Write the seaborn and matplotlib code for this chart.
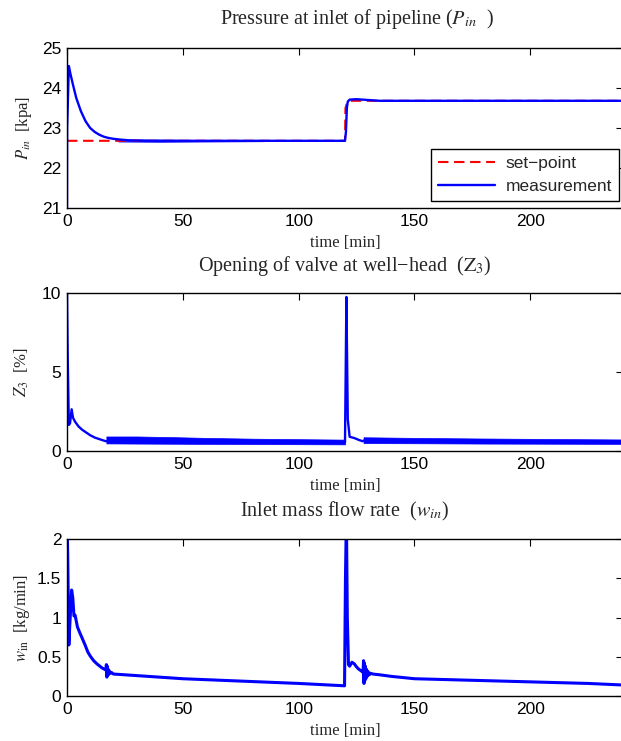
import numpy as np
import pandas as pd
import matplotlib
matplotlib.use("Agg")
import matplotlib.pyplot as plt
import seaborn as sns

# ---------------- data ----------------
# Pressure at inlet: set-point
sp_t = [0, 120, 120.2, 121, 122, 240]
sp_v = [22.68, 22.68, 23.5, 23.65, 23.68, 23.68]
# Pressure at inlet: measurement
p_t = [0, 0.05, 0.8, 1.5, 2.5, 4, 6, 8, 10, 12, 14, 16, 18, 20, 23, 27, 35,
       60, 90, 120, 120.4, 120.8, 121.2, 122, 125, 130, 135, 160, 200, 240]
p_v = [21.0, 23.0, 24.55, 24.35, 24.1, 23.75, 23.42, 23.17, 23.0, 22.9,
       22.83, 22.78, 22.75, 22.73, 22.71, 22.69, 22.68, 22.68, 22.68, 22.68,
       22.9, 23.5, 23.66, 23.71, 23.72, 23.7, 23.68, 23.68, 23.68, 23.68]
# small noise band on pressure
pb_t = [22, 40, 60, 85]
pb_lo = [22.65, 22.64, 22.65, 22.66]
pb_hi = [22.73, 22.72, 22.71, 22.70]

# Valve opening Z3
z_t = [0, 0.3, 0.8, 1.3, 2.0, 2.6, 3.5, 5, 6.5, 8, 10, 12, 14, 16.5, 17.2,
       120, 120.3, 120.6, 121.2, 122, 124, 126, 127.5, 128.2, 240]
z_v = [10, 6, 1.65, 1.75, 2.64, 2.1, 1.85, 1.55, 1.35, 1.2, 1.0, 0.85, 0.75,
       0.63, 0.62, 0.55, 5.0, 9.75, 2.0, 0.9, 0.82, 0.7, 0.62, 0.66, 0.6]
# oscillation envelopes of Z3
zb1_t = [17, 30, 45, 60, 80, 100, 120]
zb1_lo = [0.48, 0.47, 0.46, 0.45, 0.44, 0.43, 0.42]
zb1_hi = [0.92, 0.92, 0.88, 0.83, 0.78, 0.75, 0.72]
zb2_t = [128, 150, 180, 210, 240]
zb2_lo = [0.50, 0.49, 0.47, 0.46, 0.45]
zb2_hi = [0.87, 0.83, 0.79, 0.76, 0.73]

# Inlet mass flow rate
w_t = [0, 0.3, 0.8, 1.2, 2.0, 2.5, 3.0, 3.5, 4.5, 5.6, 6.5, 7.8, 9, 10, 11.5,
       12.9, 15, 16.8, 17.0, 17.2, 17.4, 17.6, 17.8, 18.0, 18.3, 18.7, 19.2,
       20, 30, 50, 75, 100, 119.8, 120.2, 120.6, 121.0, 121.5, 122, 123, 124,
       125, 126, 127, 127.8, 128.0, 128.2, 128.4, 128.6, 128.8, 129, 129.3,
       129.6, 130, 130.5, 131, 132, 135, 140, 150, 175, 200, 225, 240]
w_v = [2.3, 1.8, 0.65, 0.9, 1.35, 1.25, 1.02, 1.03, 0.88, 0.8, 0.74, 0.65,
       0.56, 0.51, 0.45, 0.41, 0.36, 0.33, 0.40, 0.24, 0.38, 0.26, 0.34, 0.28,
       0.32, 0.29, 0.30, 0.28, 0.26, 0.22, 0.19, 0.16, 0.13, 1.5, 2.3, 1.0,
       0.40, 0.38, 0.43, 0.41, 0.37, 0.34, 0.32, 0.30, 0.45, 0.16, 0.42, 0.20,
       0.38, 0.22, 0.34, 0.25, 0.31, 0.27, 0.29, 0.28, 0.27, 0.25, 0.22, 0.20,
       0.18, 0.16, 0.14]

x_ticks = [0, 50, 100, 150, 200]
p_ticks = [21, 22, 23, 24, 25]
z_ticks = [0, 5, 10]
w_ticks = [0, 0.5, 1, 1.5, 2]
w_ticklabels = ["0", "0.5", "1", "1.5", "2"]

# ---------------- style ----------------
sns.set_theme(style="white")
plt.rcParams["font.family"] = ["Liberation Sans", "DejaVu Sans"]
plt.rcParams["mathtext.fontset"] = "stix"
plt.rcParams["axes.edgecolor"] = "black"
plt.rcParams["axes.linewidth"] = 1.0

SERIF = ["Liberation Serif", "DejaVu Serif"]
TICK_FS = 12.5
LAB_FS = 12
TITLE_FS = 14.5
BLUE = "#0000ff"
RED = "#ff0000"

W, H = 621, 741
fig = plt.figure(figsize=(W / 100, H / 100), dpi=100)
left = 67 / W
width = (623 - 67) / W


def mk_axes(top_px, bot_px):
    return fig.add_axes([left, 1 - bot_px / H, width, (bot_px - top_px) / H])


ax1 = mk_axes(48, 208)
ax2 = mk_axes(293, 451)
ax3 = mk_axes(539, 696)


def style(ax, yticks, ylim, yticklabels=None):
    ax.set_xlim(0, 240)
    ax.set_ylim(*ylim)
    ax.set_xticks(x_ticks)
    ax.set_yticks(yticks)
    if yticklabels is not None:
        ax.set_yticklabels(yticklabels)
    ax.tick_params(direction="in", length=5, width=0.8, top=True, right=True,
                   labelsize=TICK_FS, colors="black", pad=4)
    for s in ax.spines.values():
        s.set_color("black")
        s.set_linewidth(1.0)
    ax.set_xlabel("time [min]", family=SERIF, fontsize=LAB_FS, labelpad=4.5)


# ---- top panel ----
sns.lineplot(x=sp_t, y=sp_v, ax=ax1, color=RED, linewidth=1.5,
             estimator=None, sort=False, label="set\u2212point")
ax1.lines[-1].set_dashes((5, 2.7))
ax1.fill_between(pb_t, pb_lo, pb_hi, color=BLUE, linewidth=0, alpha=0.8)
sns.lineplot(x=p_t, y=p_v, ax=ax1, color=BLUE, linewidth=1.7,
             estimator=None, sort=False, label="measurement")
style(ax1, p_ticks, (21, 25))
ax1.set_ylabel("$P_{in}$  [kpa]", family=SERIF, fontsize=LAB_FS, labelpad=6)
ax1.set_title("Pressure at inlet of pipeline ($P_{in}$  )", family=SERIF,
              fontsize=TITLE_FS, pad=17, x=0.522)
leg = ax1.legend(loc="lower right", bbox_to_anchor=(0.9985, 0.02),
                 fontsize=TICK_FS, frameon=True, fancybox=False,
                 handlelength=3.3, borderpad=0.4, labelspacing=0.45,
                 handletextpad=0.6, borderaxespad=0.2)
leg.get_frame().set_edgecolor("black")
leg.get_frame().set_linewidth(1.0)
leg.get_frame().set_alpha(1)

# ---- middle panel ----
ax2.fill_between(zb1_t, zb1_lo, zb1_hi, color=BLUE, linewidth=0.5)
ax2.fill_between(zb2_t, zb2_lo, zb2_hi, color=BLUE, linewidth=0.5)
sns.lineplot(x=z_t, y=z_v, ax=ax2, color=BLUE, linewidth=1.7,
             estimator=None, sort=False)
style(ax2, z_ticks, (0, 10))
ax2.set_ylabel("$Z_3$  [%]", family=SERIF, fontsize=LAB_FS, labelpad=8)
ax2.set_title("Opening of valve at well\u2212head  ($\\mathrm{Z}_3$)",
              family=SERIF, fontsize=TITLE_FS, pad=16)

# ---- bottom panel ----
sns.lineplot(x=w_t, y=w_v, ax=ax3, color=BLUE, linewidth=2.2,
             estimator=None, sort=False)
style(ax3, w_ticks, (0, 2), w_ticklabels)
ax3.set_ylabel("$w_{\\mathrm{in}}$  [kg/min]", family=SERIF, fontsize=LAB_FS,
               labelpad=4)
ax3.set_title("Inlet mass flow rate  ($w_{in}$)", family=SERIF,
              fontsize=TITLE_FS, pad=16)

for ax in (ax2, ax3):
    leg_ = ax.get_legend()
    if leg_ is not None:
        leg_.remove()

fig.savefig("out.png", dpi=100)
